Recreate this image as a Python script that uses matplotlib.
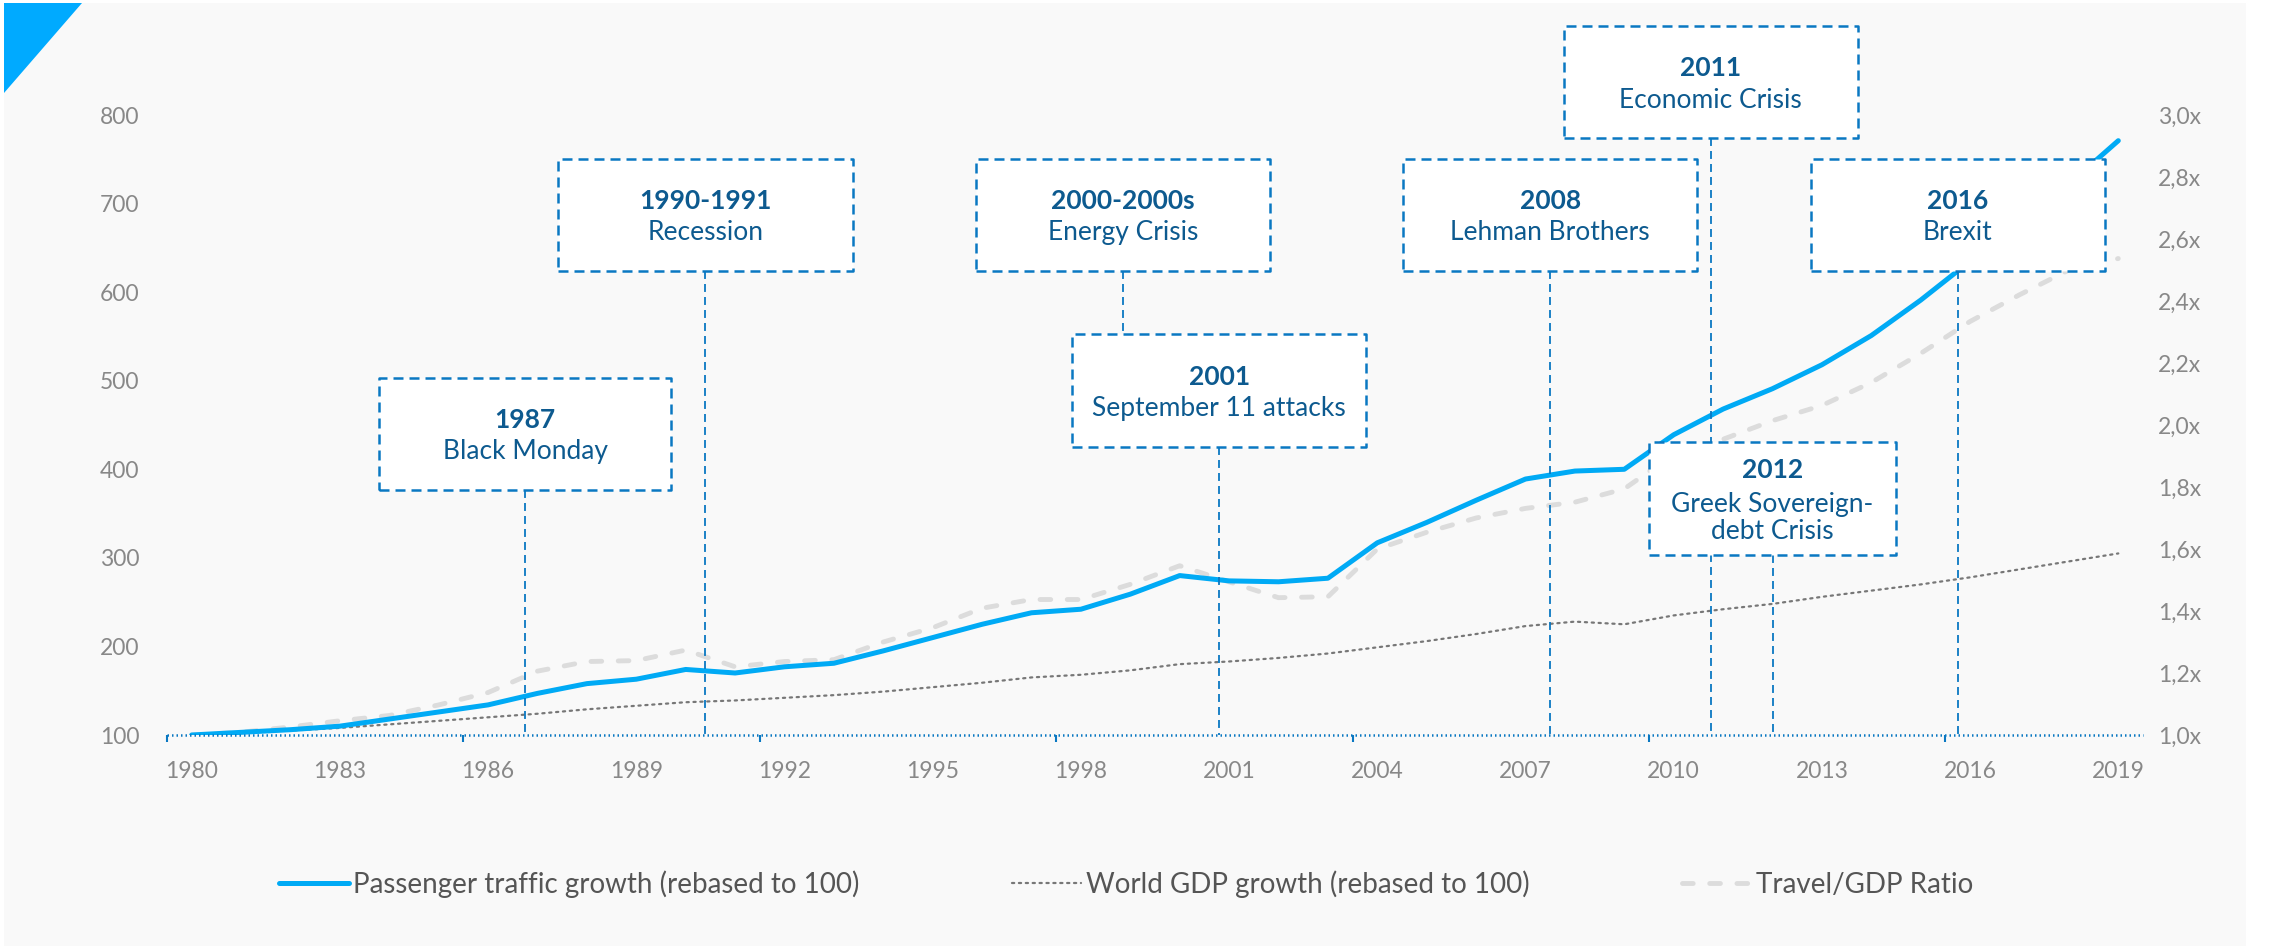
import matplotlib.pyplot as plt
from matplotlib.patches import Rectangle, Polygon
from matplotlib.lines import Line2D
import numpy as np

plt.rcParams['font.family'] = ['Lato', 'DejaVu Sans']

# data
years = list(range(1980, 2020))
passengers = [100, 103, 106, 110, 118, 126, 134, 147, 158, 163,
              174, 170, 177, 181, 195, 210, 225, 238, 242, 259,
              280, 274, 273, 277, 317, 340, 365, 389, 398, 400,
              439, 468, 491, 518, 551, 591, 635, 676, 722, 771]
gdp = [100, 103, 105, 108, 112, 116, 120, 124, 129, 133,
       137, 139, 142, 145, 149, 154, 159, 165, 168, 173,
       180, 183, 187, 192, 199, 206, 214, 223, 228, 225,
       235, 242, 248, 256, 263, 270, 278, 287, 296, 305]
travel_gdp_ratio = [1.000, 1.009, 1.026, 1.046, 1.063, 1.097, 1.137, 1.206, 1.237, 1.240,
                    1.274, 1.220, 1.237, 1.243, 1.300, 1.346, 1.409, 1.437, 1.437, 1.486,
                    1.546, 1.494, 1.443, 1.446, 1.600, 1.654, 1.700, 1.731, 1.751, 1.794,
                    1.906, 1.954, 2.014, 2.063, 2.137, 2.231, 2.334, 2.420, 2.500, 2.537]

event_years = ['1987', '1990-1991', '2000-2000s', '2001', '2008', '2011', '2012', '2016']
event_names = ['Black Monday', 'Recession', 'Energy Crisis', 'September 11 attacks',
               'Lehman Brothers', 'Economic Crisis', 'Greek Sovereign-\ndebt Crisis', 'Brexit']

xtick_years = list(range(1980, 2020, 3))
left_ticks = list(range(100, 900, 100))
right_ticks = [1.0, 1.2, 1.4, 1.6, 1.8, 2.0, 2.2, 2.4, 2.6, 2.8, 3.0]

# callout layout (x centre in years, y centre in left-axis units)
box_x = [1986.75, 1990.4, 1998.85, 2000.8, 2007.5, 2010.75, 2012.0, 2015.75]
box_y = [440, 687, 687, 489, 687, 837, 367, 687]
box_w = [5.92, 5.96, 5.96, 5.96, 5.96, 5.96, 5.0, 5.96]
box_h = 127
line_end = [100, 100, 489 + box_h / 2, 100, 100, 100, 100, 100]

BLUE = '#00aaf5'
DARK = '#0a78c2'
TEXT = '#0d5a8f'
GREY_TXT = '#888888'

fig = plt.figure(figsize=(22.72, 9.46), dpi=100)
fig.patch.set_facecolor('white')
fig.add_artist(Rectangle((4 / 2272, 0), 2242 / 2272, 1 - 3 / 946, transform=fig.transFigure,
                         facecolor='#f9f9f9', edgecolor='none', zorder=-10))
fig.add_artist(Polygon([(4 / 2272, 1 - 3 / 946), (82 / 2272, 1 - 3 / 946), (4 / 2272, 1 - 93 / 946)],
                       closed=True, transform=fig.transFigure, facecolor='#00aaff',
                       edgecolor='none', zorder=-5))

ax = fig.add_axes([167 / 2272, 1 - 735 / 946, (2143 - 167) / 2272, 620 / 946])
ax2 = ax.twinx()
ax.set_zorder(ax2.get_zorder() + 1)
ax.patch.set_visible(False)

ax.set_xlim(1979.5, 2019.5)
ax.set_ylim(100, 800)
ax2.set_ylim(1.0, 3.0)

# travel/gdp ratio on the right axis (drawn behind)
ax2.plot(years, travel_gdp_ratio, color='#dcdcdc', lw=3.5, dashes=(2.2, 3.4),
         dash_capstyle='round', zorder=2)

ax.plot(years, gdp, color='#777777', lw=1.6, dashes=(1, 2.1), dash_capstyle='round', zorder=2)
ax.plot(years, passengers, color=BLUE, lw=3.6, solid_capstyle='round',
        solid_joinstyle='round', zorder=3)

# callouts
for i in range(len(event_years)):
    x, y, w = box_x[i], box_y[i], box_w[i]
    ax.plot([x, x], [y - box_h / 2, line_end[i]], color=DARK, lw=1.3,
            dashes=(4.4, 2.8), zorder=4, clip_on=False)
    ax.add_patch(Rectangle((x - w / 2, y - box_h / 2), w, box_h, facecolor='white',
                           edgecolor=DARK, lw=1.8, linestyle=(0, (4, 2.4)),
                           joinstyle='round', zorder=5, clip_on=False))
    if '\n' in event_names[i]:
        dy_year, dy_name = 20.5, -14
    else:
        dy_year, dy_name = 10, -12.8
    ax.annotate(event_years[i], (x, y), xytext=(0, dy_year), textcoords='offset points',
                ha='center', va='center', fontsize=19, fontweight='bold', color=TEXT,
                zorder=6, annotation_clip=False)
    ax.annotate(event_names[i], (x, y), xytext=(0, dy_name), textcoords='offset points',
                ha='center', va='center', fontsize=19, color=TEXT, linespacing=1.1,
                zorder=6, annotation_clip=False)

# axes styling
for a in (ax, ax2):
    for s in ('top', 'left', 'right', 'bottom'):
        a.spines[s].set_visible(False)
ax.axhline(100, color=DARK, lw=1.8, dashes=(0.6, 1.2), zorder=4, clip_on=False)

ax.set_xticks(xtick_years)
ax.set_xticks(np.arange(1979.5, 2019, 6), minor=True)
ax.tick_params(axis='x', which='major', length=0, pad=19, labelsize=16.5, labelcolor=GREY_TXT)
ax.tick_params(axis='x', which='minor', length=5, width=1.5, color=DARK, direction='out')
ax.set_yticks(left_ticks)
ax.tick_params(axis='y', length=0, pad=20, labelsize=16.5, labelcolor=GREY_TXT)
ax2.set_yticks(right_ticks)
ax2.set_yticklabels([f'{v:.1f}x'.replace('.', ',') for v in right_ticks])
ax2.tick_params(axis='y', length=0, pad=11, labelsize=16.5, labelcolor=GREY_TXT)

handles = [
    Line2D([], [], color=BLUE, lw=3.6, solid_capstyle='round'),
    Line2D([], [], color='#777777', lw=1.6, dashes=(1, 2.1), dash_capstyle='round'),
    Line2D([], [], color='#dcdcdc', lw=3.5, dashes=(2.2, 3.4), dash_capstyle='round'),
]
labels = ['Passenger traffic growth (rebased to 100)', 'World GDP growth (rebased to 100)',
          'Travel/GDP Ratio']
leg = fig.legend(handles, labels, loc='center', bbox_to_anchor=(1126 / 2272, 1 - 884 / 946),
                 ncol=3, frameon=False, fontsize=20, handlelength=2.5, handletextpad=0.15,
                 columnspacing=5.5)
for t in leg.get_texts():
    t.set_color('#555555')

fig.savefig('out.png', dpi=100, facecolor=fig.get_facecolor())
